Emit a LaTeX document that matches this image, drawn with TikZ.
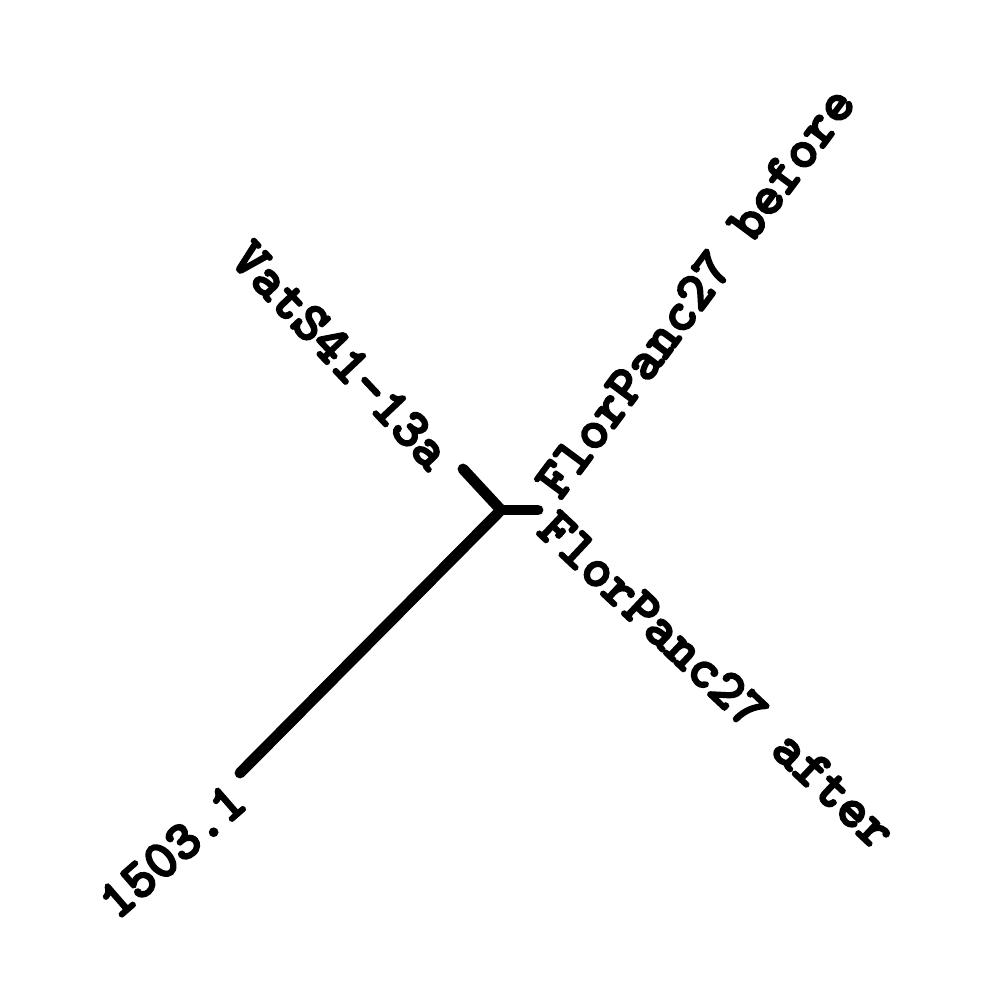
\documentclass[tikz,border=0pt]{standalone}
\usepackage{fontspec}
\newfontfamily\tipfont[Extension=.otf,FakeBold=3.5]{lmmonolt10-bold}
\begin{document}
\begin{tikzpicture}[x=0.01cm,y=-0.01cm,
  branch/.style={line width=3.1pt,line cap=round,line join=round},
  tiplabel/.style={inner sep=0pt,font=\fontsize{15.8}{16}\selectfont\tipfont}]
\useasboundingbox (0,0) rectangle (1000,1000);
\coordinate (root) at (501,510);
\coordinate (t1) at (240,773);
\coordinate (t2) at (463,469);
\coordinate (t3) at (538,510);
\draw[branch] (t1) -- (root) -- (t2);
\draw[branch] (root) -- (t3);
\node[tiplabel,rotate=41] (l1) at (172,851) {1503.1};
\node[tiplabel,rotate=-46.7] (l2) at (341,355) {VatS41–13a};
\node[tiplabel,rotate=53.3] (l3) at (695,292) {FlorPanc27 before};
\node[tiplabel,rotate=-43.2] (l4) at (717,680) {FlorPanc27 after};
\end{tikzpicture}
\end{document}
